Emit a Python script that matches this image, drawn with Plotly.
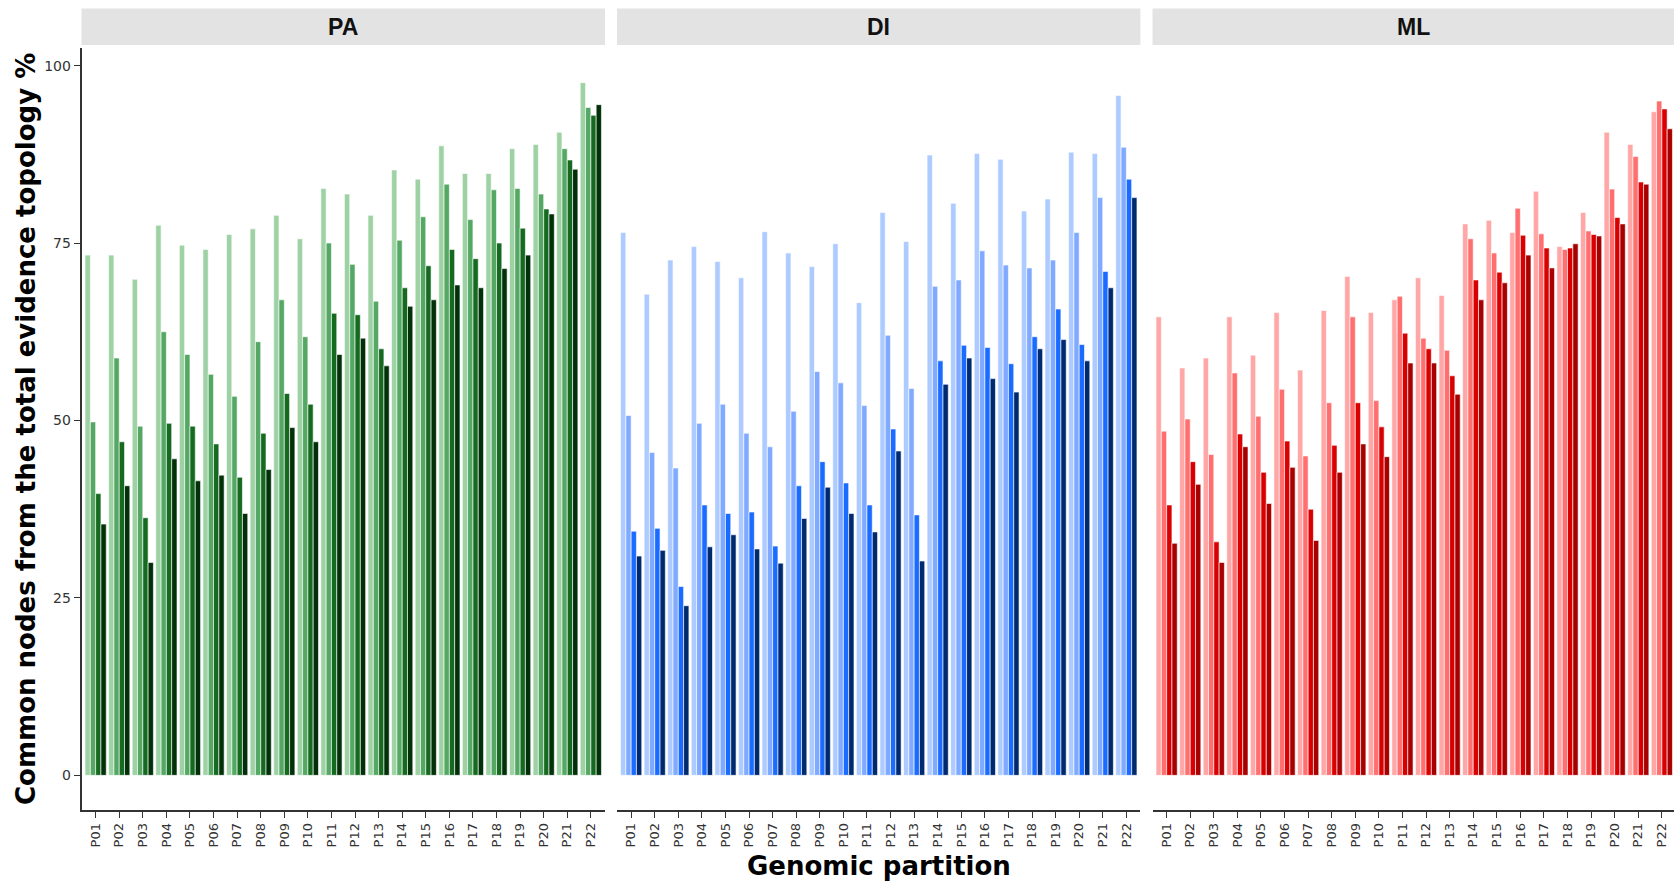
import plotly.graph_objects as go

# Genomic partitions shown on every panel
partitions = [f"P{i:02d}" for i in range(1, 23)]

# Inference methods (one panel each)
methods = ["PA", "DI", "ML"]

# Percentage of common nodes with the total-evidence topology,
# four series per method (lightest to darkest)
pa_s1 = [73.3, 73.3, 69.9, 77.5, 74.7, 74.1, 76.2, 77.0, 78.9, 75.6, 82.7,
         81.9, 78.9, 85.3, 84.0, 88.7, 84.8, 84.8, 88.3, 88.9, 90.6, 97.6]
pa_s2 = [49.8, 58.8, 49.2, 62.5, 59.3, 56.5, 53.4, 61.1, 67.0, 61.8, 75.0,
         72.0, 66.8, 75.4, 78.7, 83.3, 78.3, 82.5, 82.7, 81.9, 88.3, 94.1]
pa_s3 = [39.7, 47.0, 36.3, 49.6, 49.2, 46.7, 42.0, 48.2, 53.8, 52.3, 65.1,
         64.9, 60.1, 68.7, 71.8, 74.1, 72.8, 75.0, 77.1, 79.8, 86.7, 93.0]
pa_s4 = [35.4, 40.8, 30.0, 44.6, 41.5, 42.3, 36.9, 43.1, 49.0, 47.0, 59.3,
         61.6, 57.7, 66.1, 67.0, 69.1, 68.7, 71.4, 73.3, 79.1, 85.4, 94.5]

di_s1 = [76.5, 67.8, 72.6, 74.5, 72.4, 70.1, 76.6, 73.6, 71.7, 74.9, 66.6,
         79.3, 75.2, 87.4, 80.6, 87.6, 86.8, 79.5, 81.2, 87.8, 87.6, 95.8]
di_s2 = [50.7, 45.5, 43.3, 49.6, 52.3, 48.2, 46.3, 51.3, 56.9, 55.3, 52.1,
         62.0, 54.5, 68.9, 69.8, 73.9, 71.9, 71.5, 72.6, 76.5, 81.4, 88.5]
di_s3 = [34.4, 34.8, 26.6, 38.1, 36.9, 37.1, 32.3, 40.8, 44.2, 41.2, 38.1,
         48.8, 36.7, 58.4, 60.6, 60.3, 58.0, 61.8, 65.7, 60.7, 71.0, 84.0]
di_s4 = [30.9, 31.7, 23.9, 32.2, 33.9, 31.9, 29.9, 36.2, 40.6, 36.9, 34.3,
         45.7, 30.2, 55.1, 58.8, 55.9, 54.0, 60.1, 61.4, 58.4, 68.7, 81.4]

ml_s1 = [64.6, 57.4, 58.8, 64.6, 59.2, 65.2, 57.1, 65.5, 70.3, 65.2, 67.0,
         70.1, 67.6, 77.7, 78.2, 76.5, 82.3, 74.5, 79.3, 90.6, 88.9, 93.5]
ml_s2 = [48.5, 50.2, 45.2, 56.7, 50.6, 54.4, 45.0, 52.5, 64.6, 52.8, 67.5,
         61.6, 59.9, 75.6, 73.6, 79.9, 76.3, 74.1, 76.7, 82.6, 87.2, 95.0]
ml_s3 = [38.1, 44.2, 32.9, 48.1, 42.7, 47.1, 37.5, 46.5, 52.5, 49.1, 62.3,
         60.1, 56.3, 69.8, 70.9, 76.1, 74.3, 74.3, 76.2, 78.6, 83.6, 93.9]
ml_s4 = [32.7, 41.0, 30.0, 46.3, 38.3, 43.4, 33.1, 42.7, 46.7, 44.9, 58.1,
         58.1, 53.7, 67.0, 69.4, 73.3, 71.5, 74.9, 76.0, 77.7, 83.3, 91.1]

series = {
    "PA": [pa_s1, pa_s2, pa_s3, pa_s4],
    "DI": [di_s1, di_s2, di_s3, di_s4],
    "ML": [ml_s1, ml_s2, ml_s3, ml_s4],
}
palettes = {
    "PA": ["#9ED2A4", "#54A864", "#156A20", "#023109"],
    "DI": ["#ADCBFF", "#80AAFF", "#1A6BFF", "#002A70"],
    "ML": ["#FFA6A6", "#FF6F6F", "#D80000", "#A80000"],
}
y_ticks = [0, 25, 50, 75, 100]

W, H = 1674, 881
# panel extents in pixels
panel_px = [(81.5, 605.0), (617.0, 1140.4), (1152.5, 1674.0)]
plot_top, plot_bottom = 48.0, 810.0
strip_top, strip_bottom = 8.5, 45.0
unit_px = (605.0 - 81.5) / 22.2

fig = go.Figure()
axis_ids = ["x", "x2", "x3"]
for m, xid in zip(methods, axis_ids):
    for k, vals in enumerate(series[m]):
        fig.add_trace(go.Bar(
            x=partitions, y=vals, xaxis=xid, yaxis="y",
            name=f"{m} series {k + 1}",
            marker=dict(color=palettes[m][k],
                        line=dict(color="white", width=0.6)),
            showlegend=False,
        ))

x_tick_font = dict(family="DejaVu Sans", size=13, color="#333333")
y_tick_font = dict(family="DejaVu Sans", size=14, color="#333333")
for i, (x0, x1) in enumerate(panel_px):
    key = "xaxis" if i == 0 else f"xaxis{i + 1}"
    rng_end = -0.6 + (x1 - x0) / unit_px
    fig.layout[key] = dict(
        domain=[x0 / W, x1 / W], anchor="y",
        type="category", categoryorder="array", categoryarray=partitions,
        range=[-0.6, rng_end], tickangle=-90,
        showline=True, linecolor="#333333", linewidth=1.6,
        ticks="outside", ticklen=6, tickwidth=1.3, tickcolor="#333333",
        tickfont=x_tick_font, showgrid=False, zeroline=False, fixedrange=True,
    )
    # facet strip
    fig.add_shape(type="rect", xref="paper", yref="paper",
                  x0=x0 / W, x1=x1 / W,
                  y0=1 - strip_bottom / H, y1=1 - strip_top / H,
                  fillcolor="#E3E3E3", line=dict(width=0), layer="below")
    fig.add_annotation(text=f"<b>{methods[i]}</b>", xref="paper", yref="paper",
                       x=(x0 + x1) / 2 / W, y=1 - (strip_top + strip_bottom) / 2 / H,
                       showarrow=False, xanchor="center", yanchor="middle",
                       font=dict(family="Liberation Sans", size=23, color="#111111"))

fig.update_layout(
    width=W, height=H,
    margin=dict(l=0, r=0, t=0, b=0),
    paper_bgcolor="white", plot_bgcolor="white",
    barmode="group", bargap=0.1, bargroupgap=0.0,
    yaxis=dict(
        domain=[1 - plot_bottom / H, 1 - plot_top / H], anchor="x",
        range=[-4.88, 102.48], tickvals=y_ticks,
        ticktext=[str(v) for v in y_ticks],
        showline=True, linecolor="#333333", linewidth=1.6,
        ticks="outside", ticklen=6, tickwidth=1.3, tickcolor="#333333",
        tickfont=y_tick_font, showgrid=False, zeroline=False, fixedrange=True,
    ),
)

# axis titles
fig.add_annotation(text="<b>Genomic partition</b>", xref="paper", yref="paper",
                   x=878.7 / W, y=1 - 866 / H, showarrow=False,
                   xanchor="center", yanchor="middle",
                   font=dict(family="DejaVu Sans", size=26, color="#000000"))
fig.add_annotation(text="<b>Common nodes from the total evidence topology %</b>",
                   xref="paper", yref="paper",
                   x=26 / W, y=1 - 429 / H, showarrow=False, textangle=-90,
                   xanchor="center", yanchor="middle",
                   font=dict(family="DejaVu Sans", size=26, color="#000000"))

fig.write_html("out.html")
